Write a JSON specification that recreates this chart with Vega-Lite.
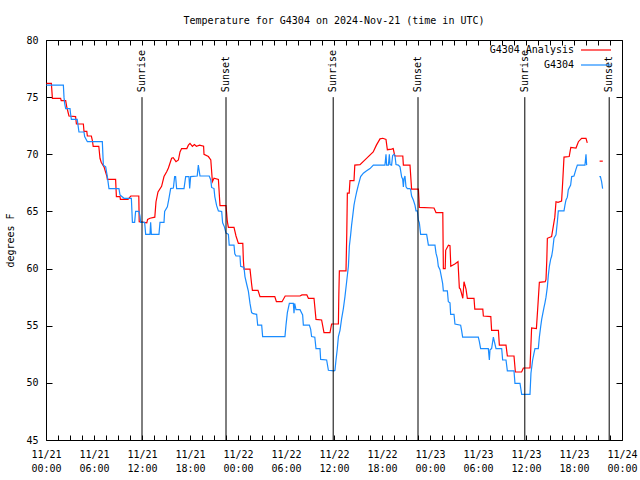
{
"$schema": "https://vega.github.io/schema/vega-lite/v6.json",
"width": 576, "height": 400,
"autosize": {"type": "none"},
"padding": {"left": 46, "top": 40, "right": 18, "bottom": 40},
"background": "white",
"title": {"text": "Temperature for G4304 on 2024-Nov-21 (time in UTC)", "font": "DejaVu Sans Mono", "fontSize": 10, "fontWeight": "normal", "offset": 9, "color": "black"},
"config": {
  "view": {"stroke": "black", "strokeWidth": 1},
  "font": "DejaVu Sans Mono",
  "axis": {"labelFont": "DejaVu Sans Mono", "labelFontSize": 10, "labelColor": "black", "tickColor": "black", "domain": false, "grid": false, "titleFont": "DejaVu Sans Mono", "titleFontWeight": "normal", "titleFontSize": 10, "titleColor": "black"}
},
"datasets": {
"analysis": [
{"h":0.05,"t":76.2},{"h":0.67,"t":76.2},{"h":0.8,"t":74.9},{"h":1.83,"t":74.9},{"h":1.9,"t":74.7},{"h":2.46,"t":74.7},{"h":2.58,"t":74.2},{"h":2.75,"t":73.7},{"h":2.87,"t":73.35},{"h":3.7,"t":73.3},{"h":3.8,"t":72.65},{"h":4.67,"t":72.65},{"h":4.75,"t":72.0},{"h":5.1,"t":72.0},{"h":5.17,"t":71.6},{"h":5.67,"t":71.6},{"h":5.8,"t":71.2},{"h":5.9,"t":70.7},{"h":6.6,"t":70.7},{"h":6.75,"t":69.65},{"h":6.9,"t":69.3},{"h":7.25,"t":68.9},{"h":7.6,"t":68.1},{"h":7.67,"t":67.8},{"h":8.7,"t":67.8},{"h":8.8,"t":66.3},{"h":9.25,"t":66.3},{"h":9.3,"t":66.06},{"h":10.25,"t":66.06},{"h":10.6,"t":66.35},{"h":11.6,"t":66.35},{"h":11.65,"t":64.1},{"h":12.6,"t":64.0},{"h":12.7,"t":64.3},{"h":13.0,"t":64.4},{"h":13.6,"t":64.5},{"h":13.75,"t":65.85},{"h":14.0,"t":66.7},{"h":14.45,"t":67.2},{"h":14.75,"t":68.05},{"h":15.1,"t":68.5},{"h":15.3,"t":68.8},{"h":15.7,"t":69.65},{"h":15.9,"t":69.7},{"h":16.25,"t":69.35},{"h":16.55,"t":69.5},{"h":16.75,"t":70.2},{"h":16.95,"t":70.5},{"h":17.6,"t":70.5},{"h":17.8,"t":70.8},{"h":18.0,"t":70.95},{"h":18.3,"t":70.7},{"h":18.55,"t":70.85},{"h":18.8,"t":70.7},{"h":19.2,"t":70.8},{"h":19.7,"t":70.7},{"h":19.75,"t":70.0},{"h":20.3,"t":69.8},{"h":20.6,"t":69.5},{"h":20.8,"t":67.6},{"h":21.0,"t":67.9},{"h":21.55,"t":67.8},{"h":21.75,"t":65.5},{"h":22.5,"t":65.5},{"h":22.67,"t":64.1},{"h":22.8,"t":63.6},{"h":23.5,"t":63.6},{"h":23.75,"t":62.85},{"h":24.05,"t":62.2},{"h":24.6,"t":62.2},{"h":24.67,"t":60.75},{"h":24.75,"t":59.95},{"h":25.5,"t":59.95},{"h":25.7,"t":58.65},{"h":25.8,"t":58.1},{"h":26.5,"t":58.1},{"h":26.75,"t":57.55},{"h":28.6,"t":57.55},{"h":28.8,"t":57.1},{"h":29.5,"t":57.1},{"h":29.9,"t":57.6},{"h":31.75,"t":57.6},{"h":32.0,"t":57.7},{"h":32.6,"t":57.7},{"h":32.8,"t":57.4},{"h":33.5,"t":57.4},{"h":33.75,"t":55.55},{"h":34.45,"t":55.5},{"h":34.75,"t":54.4},{"h":35.5,"t":54.4},{"h":35.7,"t":55.15},{"h":36.55,"t":55.15},{"h":36.6,"t":57.55},{"h":36.67,"t":59.8},{"h":37.5,"t":59.8},{"h":37.6,"t":63.2},{"h":37.67,"t":66.6},{"h":37.9,"t":66.6},{"h":38.0,"t":67.7},{"h":38.5,"t":67.7},{"h":38.6,"t":69.05},{"h":39.25,"t":69.1},{"h":40.0,"t":69.6},{"h":40.9,"t":70.2},{"h":41.3,"t":70.8},{"h":41.75,"t":71.35},{"h":42.1,"t":71.4},{"h":42.5,"t":71.3},{"h":42.67,"t":70.4},{"h":43.2,"t":70.45},{"h":43.4,"t":70.5},{"h":43.6,"t":69.85},{"h":44.6,"t":69.85},{"h":44.67,"t":69.05},{"h":45.5,"t":69.05},{"h":45.7,"t":66.95},{"h":46.55,"t":66.95},{"h":46.67,"t":65.35},{"h":48.5,"t":65.3},{"h":48.75,"t":64.9},{"h":49.6,"t":64.9},{"h":49.67,"t":60.0},{"h":49.9,"t":60.0},{"h":49.96,"t":61.6},{"h":50.3,"t":62.05},{"h":50.5,"t":62.0},{"h":50.6,"t":60.2},{"h":51.1,"t":60.4},{"h":51.5,"t":60.6},{"h":51.67,"t":58.3},{"h":51.8,"t":58.2},{"h":52.1,"t":57.4},{"h":52.25,"t":58.85},{"h":52.5,"t":58.2},{"h":52.67,"t":57.4},{"h":53.5,"t":57.4},{"h":53.6,"t":56.45},{"h":54.6,"t":56.45},{"h":54.67,"t":55.85},{"h":55.6,"t":55.8},{"h":55.7,"t":54.6},{"h":56.55,"t":54.6},{"h":56.67,"t":53.3},{"h":57.5,"t":53.3},{"h":57.67,"t":52.35},{"h":58.5,"t":52.35},{"h":58.67,"t":50.95},{"h":59.45,"t":50.95},{"h":59.67,"t":51.3},{"h":60.5,"t":51.3},{"h":60.6,"t":53.0},{"h":60.7,"t":54.8},{"h":61.3,"t":54.75},{"h":61.5,"t":56.9},{"h":61.67,"t":58.8},{"h":62.4,"t":58.85},{"h":62.5,"t":59.05},{"h":62.6,"t":60.75},{"h":62.67,"t":62.65},{"h":63.2,"t":62.8},{"h":63.6,"t":64.5},{"h":63.75,"t":65.85},{"h":64.0,"t":65.8},{"h":64.45,"t":65.9},{"h":64.6,"t":67.75},{"h":64.75,"t":69.75},{"h":65.4,"t":69.8},{"h":65.6,"t":70.6},{"h":66.25,"t":70.55},{"h":66.55,"t":71.1},{"h":66.95,"t":71.4},{"h":67.5,"t":71.4},{"h":67.66,"t":71.0},
{"h":69.2,"t":69.4,"g":2},{"h":69.6,"t":69.4,"g":2}
],
"obs": [
{"h":0.05,"t":76.05},{"h":2.17,"t":76.05},{"h":2.25,"t":75.0},{"h":2.33,"t":74.45},{"h":2.46,"t":74.0},{"h":3.0,"t":74.0},{"h":3.08,"t":73.5},{"h":3.17,"t":73.05},{"h":3.9,"t":73.05},{"h":4.0,"t":72.55},{"h":4.12,"t":71.95},{"h":4.75,"t":71.95},{"h":4.83,"t":71.55},{"h":5.17,"t":71.1},{"h":7.04,"t":71.1},{"h":7.17,"t":69.05},{"h":7.46,"t":68.9},{"h":7.67,"t":68.05},{"h":7.87,"t":67.0},{"h":9.12,"t":67.0},{"h":9.25,"t":66.45},{"h":9.75,"t":66.15},{"h":10.67,"t":66.15},{"h":10.8,"t":64.05},{"h":11.08,"t":64.05},{"h":11.2,"t":65.0},{"h":11.62,"t":65.0},{"h":11.75,"t":64.6},{"h":11.83,"t":64.05},{"h":12.33,"t":64.05},{"h":12.46,"t":63.0},{"h":13.0,"t":63.0},{"h":13.08,"t":64.05},{"h":13.17,"t":63.0},{"h":14.12,"t":63.0},{"h":14.25,"t":64.05},{"h":14.75,"t":64.05},{"h":14.83,"t":65.0},{"h":15.17,"t":65.4},{"h":15.37,"t":66.15},{"h":15.58,"t":67.0},{"h":15.92,"t":67.05},{"h":16.08,"t":68.05},{"h":16.2,"t":68.05},{"h":16.33,"t":67.0},{"h":17.25,"t":67.0},{"h":17.46,"t":68.05},{"h":17.87,"t":68.05},{"h":17.96,"t":67.0},{"h":18.08,"t":68.05},{"h":18.9,"t":68.1},{"h":19.04,"t":69.05},{"h":19.25,"t":68.1},{"h":20.4,"t":68.1},{"h":20.6,"t":67.75},{"h":20.7,"t":67.1},{"h":21.0,"t":67.0},{"h":21.1,"t":66.3},{"h":21.33,"t":65.5},{"h":21.55,"t":65.05},{"h":21.96,"t":65.0},{"h":22.08,"t":64.0},{"h":22.3,"t":63.65},{"h":22.5,"t":63.1},{"h":22.8,"t":63.0},{"h":22.9,"t":62.05},{"h":23.5,"t":62.05},{"h":23.6,"t":61.3},{"h":23.75,"t":61.1},{"h":24.25,"t":61.1},{"h":24.33,"t":60.2},{"h":24.75,"t":60.1},{"h":24.87,"t":59.3},{"h":25.08,"t":58.65},{"h":25.3,"t":58.0},{"h":25.5,"t":56.95},{"h":25.7,"t":56.15},{"h":25.9,"t":56.05},{"h":26.33,"t":56.0},{"h":26.46,"t":55.05},{"h":26.96,"t":55.05},{"h":27.08,"t":54.05},{"h":29.87,"t":54.05},{"h":30.0,"t":55.05},{"h":30.17,"t":56.15},{"h":30.42,"t":56.95},{"h":30.92,"t":56.95},{"h":31.0,"t":56.1},{"h":31.08,"t":56.95},{"h":31.25,"t":56.4},{"h":31.75,"t":56.4},{"h":32.08,"t":55.95},{"h":32.17,"t":55.05},{"h":32.92,"t":55.05},{"h":33.08,"t":54.7},{"h":33.2,"t":54.05},{"h":33.6,"t":54.0},{"h":33.75,"t":53.0},{"h":34.25,"t":53.0},{"h":34.33,"t":52.05},{"h":35.08,"t":52.0},{"h":35.3,"t":51.1},{"h":36.0,"t":51.05},{"h":36.12,"t":51.1},{"h":36.25,"t":52.0},{"h":36.4,"t":52.9},{"h":36.55,"t":54.05},{"h":36.75,"t":54.6},{"h":36.96,"t":55.65},{"h":37.17,"t":56.5},{"h":37.37,"t":57.55},{"h":37.58,"t":58.85},{"h":37.8,"t":60.2},{"h":37.92,"t":61.95},{"h":38.08,"t":62.95},{"h":38.2,"t":63.8},{"h":38.33,"t":64.55},{"h":38.5,"t":65.55},{"h":38.62,"t":66.0},{"h":38.83,"t":66.7},{"h":39.04,"t":67.3},{"h":39.33,"t":68.05},{"h":39.67,"t":68.35},{"h":40.08,"t":68.55},{"h":40.5,"t":68.75},{"h":40.92,"t":69.05},{"h":42.37,"t":69.05},{"h":42.5,"t":70.0},{"h":42.58,"t":69.05},{"h":42.8,"t":69.05},{"h":42.92,"t":70.0},{"h":43.0,"t":69.1},{"h":43.2,"t":69.05},{"h":43.33,"t":69.9},{"h":43.5,"t":70.0},{"h":43.62,"t":69.9},{"h":43.75,"t":69.1},{"h":44.04,"t":69.05},{"h":44.25,"t":68.9},{"h":44.46,"t":68.0},{"h":44.58,"t":67.85},{"h":44.67,"t":67.15},{"h":44.75,"t":67.85},{"h":44.87,"t":68.1},{"h":45.0,"t":67.15},{"h":45.17,"t":67.0},{"h":45.5,"t":67.0},{"h":45.58,"t":66.9},{"h":45.7,"t":66.35},{"h":45.92,"t":66.0},{"h":46.12,"t":65.55},{"h":46.25,"t":65.05},{"h":46.42,"t":65.05},{"h":46.54,"t":64.25},{"h":46.67,"t":64.0},{"h":46.83,"t":63.0},{"h":47.58,"t":63.0},{"h":47.8,"t":62.05},{"h":48.62,"t":62.05},{"h":48.75,"t":61.35},{"h":48.92,"t":60.9},{"h":49.04,"t":60.2},{"h":49.25,"t":59.9},{"h":49.46,"t":59.15},{"h":49.58,"t":58.7},{"h":49.67,"t":58.05},{"h":50.17,"t":58.05},{"h":50.29,"t":57.1},{"h":50.5,"t":57.0},{"h":50.58,"t":56.0},{"h":51.0,"t":56.0},{"h":51.12,"t":55.15},{"h":51.83,"t":55.05},{"h":51.96,"t":54.55},{"h":52.08,"t":54.0},{"h":54.04,"t":54.0},{"h":54.17,"t":53.6},{"h":54.33,"t":53.0},{"h":55.29,"t":53.0},{"h":55.42,"t":52.0},{"h":55.5,"t":52.9},{"h":55.7,"t":53.0},{"h":55.92,"t":54.0},{"h":56.0,"t":53.75},{"h":56.25,"t":53.0},{"h":56.96,"t":53.0},{"h":57.08,"t":52.0},{"h":57.5,"t":52.0},{"h":57.67,"t":51.05},{"h":58.5,"t":51.05},{"h":58.62,"t":49.95},{"h":59.25,"t":49.95},{"h":59.46,"t":49.0},{"h":60.5,"t":49.0},{"h":60.62,"t":50.85},{"h":60.83,"t":52.0},{"h":61.0,"t":52.6},{"h":61.12,"t":53.0},{"h":61.54,"t":53.0},{"h":61.67,"t":54.0},{"h":61.83,"t":54.9},{"h":61.96,"t":55.55},{"h":62.08,"t":56.0},{"h":62.25,"t":56.6},{"h":62.37,"t":57.0},{"h":62.5,"t":57.5},{"h":62.67,"t":58.4},{"h":62.79,"t":59.4},{"h":62.92,"t":60.2},{"h":63.08,"t":60.8},{"h":63.21,"t":61.1},{"h":63.33,"t":61.6},{"h":63.5,"t":62.65},{"h":63.75,"t":62.95},{"h":63.92,"t":64.1},{"h":64.04,"t":65.05},{"h":64.75,"t":65.05},{"h":64.87,"t":65.55},{"h":65.0,"t":66.0},{"h":65.17,"t":66.25},{"h":65.29,"t":66.9},{"h":65.58,"t":67.3},{"h":65.71,"t":68.05},{"h":66.0,"t":68.1},{"h":66.25,"t":68.7},{"h":66.42,"t":69.05},{"h":67.37,"t":69.05},{"h":67.5,"t":70.0},{"h":67.58,"t":69.05},
{"h":69.17,"t":68.05,"g":2},{"h":69.3,"t":68.05,"g":2},{"h":69.45,"t":67.6,"g":2},{"h":69.58,"t":67.0,"g":2}
],
"sun": [
{"h":12.0,"label":"Sunrise"},{"h":22.5,"label":"Sunset"},{"h":35.9,"label":"Sunrise"},{"h":46.5,"label":"Sunset"},{"h":59.85,"label":"Sunrise"},{"h":70.4,"label":"Sunset"}
]
},
"layer": [
{
 "data": {"name": "analysis"},
 "mark": {"type": "line", "strokeWidth": 1.2},
 "encoding": {
  "x": {"field": "h", "type": "quantitative", "scale": {"domain": [0, 72], "nice": false, "zero": false},
        "axis": {"orient": "bottom", "title": null, "values": [0,1.5,3,4.5,6,7.5,9,10.5,12,13.5,15,16.5,18,19.5,21,22.5,24,25.5,27,28.5,30,31.5,33,34.5,36,37.5,39,40.5,42,43.5,45,46.5,48,49.5,51,52.5,54,55.5,57,58.5,60,61.5,63,64.5,66,67.5,69,70.5,72],
                 "labelExpr": "datum.value % 6 == 0 ? ['11/' + (21 + floor(datum.value / 24)), (datum.value % 24 < 10 ? '0' : '') + (datum.value % 24) + ':00'] : ''",
                 "labelOverlap": false, "labelFlush": false, "tickSize": -5, "labelPadding": 14, "labelLineHeight": 14, "labelBaseline": "top"}},
  "y": {"field": "t", "type": "quantitative", "scale": {"domain": [45, 80], "nice": false, "zero": false},
        "axis": {"orient": "left", "title": "degrees F", "values": [45,50,55,60,65,70,75,80], "tickSize": -6, "labelPadding": 14, "titlePadding": 10}},
  "color": {"datum": "G4304 Analysis", "type": "nominal", "scale": {"domain": ["G4304 Analysis", "G4304"], "range": ["#ff0000", "#1a8cff"]},
            "legend": {"orient": "none", "legendX": 544, "legendY": 4, "title": null, "padding": 0, "symbolType": "M-3,0H3", "symbolSize": 100, "symbolStrokeWidth": 1.2, "labelFont": "DejaVu Sans Mono", "labelFontSize": 10, "labelColor": "black", "rowPadding": 4,
                       "encode": {"labels": {"update": {"align": {"value": "right"}, "x": {"value": -16}}}}}},
  "detail": {"field": "g", "type": "nominal"}
 }
},
{
 "data": {"name": "obs"},
 "mark": {"type": "line", "strokeWidth": 1.2},
 "encoding": {
  "x": {"field": "h", "type": "quantitative", "axis": null},
  "y": {"field": "t", "type": "quantitative", "axis": null},
  "color": {"datum": "G4304", "type": "nominal"},
  "detail": {"field": "g", "type": "nominal"}
 }
},
{
 "data": {"name": "sun"},
 "mark": {"type": "rule", "color": "black", "strokeWidth": 1},
 "encoding": {
  "x": {"field": "h", "type": "quantitative",
        "axis": {"orient": "top", "title": null, "labels": false, "tickSize": -5, "values": [0,1.5,3,4.5,6,7.5,9,10.5,12,13.5,15,16.5,18,19.5,21,22.5,24,25.5,27,28.5,30,31.5,33,34.5,36,37.5,39,40.5,42,43.5,45,46.5,48,49.5,51,52.5,54,55.5,57,58.5,60,61.5,63,64.5,66,67.5,69,70.5,72]}},
  "y": {"datum": 45, "type": "quantitative", "axis": {"orient": "right", "title": null, "labels": false, "tickSize": -6, "values": [45,50,55,60,65,70,75,80]}},
  "y2": {"datum": 75}
 }
},
{
 "data": {"name": "sun"},
 "mark": {"type": "text", "angle": 270, "align": "left", "baseline": "middle", "dx": 5, "font": "DejaVu Sans Mono", "fontSize": 10, "color": "black"},
 "encoding": {
  "x": {"field": "h", "type": "quantitative", "axis": null},
  "y": {"datum": 75, "type": "quantitative", "axis": null},
  "text": {"field": "label"}
 }
}
],
"resolve": {"axis": {"x": "independent", "y": "independent"}}
}
